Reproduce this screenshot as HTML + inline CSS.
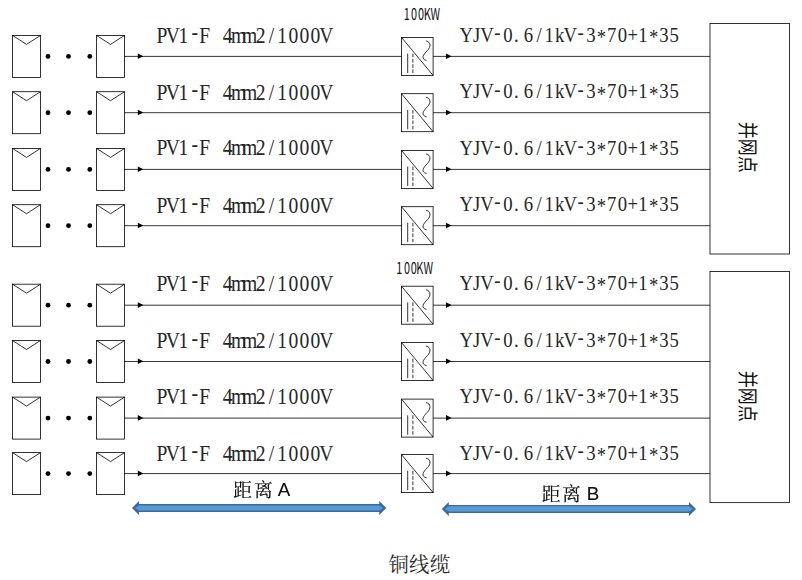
<!DOCTYPE html>
<html lang="zh"><head><meta charset="utf-8"><title>铜线缆</title>
<style>
html,body{margin:0;padding:0;background:#fff}
svg{display:block}
.l{fill:none;stroke:#000;stroke-width:.8}
.t{font-family:"Liberation Serif","Noto Serif CJK SC",serif;font-size:22px;fill:#262626}
.k{font-family:"Noto Sans CJK SC","Liberation Sans",sans-serif;font-size:16px;fill:#111}
.c{font-family:"Noto Serif CJK SC","Liberation Serif",serif;fill:#111}
.d{font-family:"Liberation Sans","Noto Serif CJK SC",serif;font-size:18.8px;fill:#111}
.g{font-family:"Noto Sans CJK SC","Liberation Sans",sans-serif;font-size:20.6px;fill:#111}
</style></head>
<body>
<svg width="802" height="580" viewBox="0 0 802 580">
<rect width="802" height="580" fill="#fff"/>

<g>
<rect class="l" x="12.5" y="35.4" width="28" height="42"/>
<polyline class="l" points="12.5,35.4 26.5,44.4 40.5,35.4"/>
<rect class="l" x="96.5" y="35.4" width="28" height="42"/>
<polyline class="l" points="96.5,35.4 110.5,44.4 124.5,35.4"/>
<circle cx="48.0" cy="56.4" r="2.4" fill="#000"/>
<circle cx="68.5" cy="56.4" r="2.4" fill="#000"/>
<circle cx="89.8" cy="56.4" r="2.4" fill="#000"/>
<line class="l" x1="124.5" y1="56.4" x2="401.5" y2="56.4"/>
<polygon points="137.8,53.4 143.3,56.2 137.8,59.0" fill="#000"/>
<rect class="l" x="401.5" y="37.4" width="31.6" height="38"/>
<line class="l" x1="401.5" y1="37.4" x2="433.1" y2="75.4"/>
<line class="l" x1="407.7" y1="53.6" x2="407.7" y2="73.0"/>
<line class="l" x1="412.9" y1="53.6" x2="412.9" y2="73.0" stroke-dasharray="3.7 1.6"/>
<path class="l" d="M426,40.9 C431,41.9 431,46.9 427.5,50.4 C423,54.9 420.5,58.9 426.5,60.5"/>
<line class="l" x1="433.1" y1="56.4" x2="710" y2="56.4"/>
<polygon points="446,53.4 451.5,56.2 446,59.0" fill="#000"/>
<text class="t" style="font-size:22.8px" transform="scale(0.86,1)" y="42.8 42.8 42.8 40.2 42.8 42.8 42.8 42.8 42.8 42.8 42.8 42.8 42.8 42.8 42.8 42.8" x="182.0 192.7 207.7 222.7 231.6 252.0 259.0 268.6 281.3 297.4 312.6 322.5 335.6 348.3 361.1 371.3">PV1-F 4mm2/1000V</text>
<text class="t" transform="scale(0.85,1)" y="41.8 41.8 41.8 39.3 41.8 41.8 41.8 41.8 41.8 41.8 41.8 39.3 41.8 44.3 41.8 41.8 41.8 41.8 44.3 41.8 41.8" x="540.7 556.4 565.0 581.5 592.0 604.6 616.3 631.1 640.6 653.0 663.0 679.5 689.8 702.2 714.0 726.7 738.2 750.9 763.4 775.6 787.7">YJV-0.6/1kV-3*70+1*35</text>
</g>
<g>
<rect class="l" x="12.5" y="91.7" width="28" height="42"/>
<polyline class="l" points="12.5,91.7 26.5,100.7 40.5,91.7"/>
<rect class="l" x="96.5" y="91.7" width="28" height="42"/>
<polyline class="l" points="96.5,91.7 110.5,100.7 124.5,91.7"/>
<circle cx="48.0" cy="112.7" r="2.4" fill="#000"/>
<circle cx="68.5" cy="112.7" r="2.4" fill="#000"/>
<circle cx="89.8" cy="112.7" r="2.4" fill="#000"/>
<line class="l" x1="124.5" y1="112.7" x2="401.5" y2="112.7"/>
<polygon points="137.8,109.7 143.3,112.5 137.8,115.3" fill="#000"/>
<rect class="l" x="401.5" y="93.7" width="31.6" height="38"/>
<line class="l" x1="401.5" y1="93.7" x2="433.1" y2="131.7"/>
<line class="l" x1="407.7" y1="109.9" x2="407.7" y2="129.3"/>
<line class="l" x1="412.9" y1="109.9" x2="412.9" y2="129.3" stroke-dasharray="3.7 1.6"/>
<path class="l" d="M426,97.2 C431,98.2 431,103.2 427.5,106.7 C423,111.2 420.5,115.2 426.5,116.8"/>
<line class="l" x1="433.1" y1="112.7" x2="710" y2="112.7"/>
<polygon points="446,109.7 451.5,112.5 446,115.3" fill="#000"/>
<text class="t" style="font-size:22.8px" transform="scale(0.86,1)" y="99.8 99.8 99.8 97.2 99.8 99.8 99.8 99.8 99.8 99.8 99.8 99.8 99.8 99.8 99.8 99.8" x="182.0 192.7 207.7 222.7 231.6 252.0 259.0 268.6 281.3 297.4 312.6 322.5 335.6 348.3 361.1 371.3">PV1-F 4mm2/1000V</text>
<text class="t" transform="scale(0.85,1)" y="98.3 98.3 98.3 95.8 98.3 98.3 98.3 98.3 98.3 98.3 98.3 95.8 98.3 100.8 98.3 98.3 98.3 98.3 100.8 98.3 98.3" x="540.7 556.4 565.0 581.5 592.0 604.6 616.3 631.1 640.6 653.0 663.0 679.5 689.8 702.2 714.0 726.7 738.2 750.9 763.4 775.6 787.7">YJV-0.6/1kV-3*70+1*35</text>
</g>
<g>
<rect class="l" x="12.5" y="148.4" width="28" height="42"/>
<polyline class="l" points="12.5,148.4 26.5,157.4 40.5,148.4"/>
<rect class="l" x="96.5" y="148.4" width="28" height="42"/>
<polyline class="l" points="96.5,148.4 110.5,157.4 124.5,148.4"/>
<circle cx="48.0" cy="169.4" r="2.4" fill="#000"/>
<circle cx="68.5" cy="169.4" r="2.4" fill="#000"/>
<circle cx="89.8" cy="169.4" r="2.4" fill="#000"/>
<line class="l" x1="124.5" y1="169.4" x2="401.5" y2="169.4"/>
<polygon points="137.8,166.4 143.3,169.2 137.8,172.0" fill="#000"/>
<rect class="l" x="401.5" y="150.4" width="31.6" height="38"/>
<line class="l" x1="401.5" y1="150.4" x2="433.1" y2="188.4"/>
<line class="l" x1="407.7" y1="166.6" x2="407.7" y2="186.0"/>
<line class="l" x1="412.9" y1="166.6" x2="412.9" y2="186.0" stroke-dasharray="3.7 1.6"/>
<path class="l" d="M426,153.9 C431,154.9 431,159.9 427.5,163.4 C423,167.9 420.5,171.9 426.5,173.5"/>
<line class="l" x1="433.1" y1="169.4" x2="710" y2="169.4"/>
<polygon points="446,166.4 451.5,169.2 446,172.0" fill="#000"/>
<text class="t" style="font-size:22.8px" transform="scale(0.86,1)" y="155.1 155.1 155.1 152.5 155.1 155.1 155.1 155.1 155.1 155.1 155.1 155.1 155.1 155.1 155.1 155.1" x="182.0 192.7 207.7 222.7 231.6 252.0 259.0 268.6 281.3 297.4 312.6 322.5 335.6 348.3 361.1 371.3">PV1-F 4mm2/1000V</text>
<text class="t" transform="scale(0.85,1)" y="154.8 154.8 154.8 152.3 154.8 154.8 154.8 154.8 154.8 154.8 154.8 152.3 154.8 157.3 154.8 154.8 154.8 154.8 157.3 154.8 154.8" x="540.7 556.4 565.0 581.5 592.0 604.6 616.3 631.1 640.6 653.0 663.0 679.5 689.8 702.2 714.0 726.7 738.2 750.9 763.4 775.6 787.7">YJV-0.6/1kV-3*70+1*35</text>
</g>
<g>
<rect class="l" x="12.5" y="204.7" width="28" height="42"/>
<polyline class="l" points="12.5,204.7 26.5,213.7 40.5,204.7"/>
<rect class="l" x="96.5" y="204.7" width="28" height="42"/>
<polyline class="l" points="96.5,204.7 110.5,213.7 124.5,204.7"/>
<circle cx="48.0" cy="225.7" r="2.4" fill="#000"/>
<circle cx="68.5" cy="225.7" r="2.4" fill="#000"/>
<circle cx="89.8" cy="225.7" r="2.4" fill="#000"/>
<line class="l" x1="124.5" y1="225.7" x2="401.5" y2="225.7"/>
<polygon points="137.8,222.7 143.3,225.5 137.8,228.2" fill="#000"/>
<rect class="l" x="401.5" y="206.7" width="31.6" height="38"/>
<line class="l" x1="401.5" y1="206.7" x2="433.1" y2="244.7"/>
<line class="l" x1="407.7" y1="222.8" x2="407.7" y2="242.2"/>
<line class="l" x1="412.9" y1="222.8" x2="412.9" y2="242.2" stroke-dasharray="3.7 1.6"/>
<path class="l" d="M426,210.2 C431,211.2 431,216.2 427.5,219.7 C423,224.2 420.5,228.2 426.5,229.8"/>
<line class="l" x1="433.1" y1="225.7" x2="710" y2="225.7"/>
<polygon points="446,222.7 451.5,225.5 446,228.2" fill="#000"/>
<text class="t" style="font-size:22.8px" transform="scale(0.86,1)" y="212.7 212.7 212.7 210.1 212.7 212.7 212.7 212.7 212.7 212.7 212.7 212.7 212.7 212.7 212.7 212.7" x="182.0 192.7 207.7 222.7 231.6 252.0 259.0 268.6 281.3 297.4 312.6 322.5 335.6 348.3 361.1 371.3">PV1-F 4mm2/1000V</text>
<text class="t" transform="scale(0.85,1)" y="211.0 211.0 211.0 208.5 211.0 211.0 211.0 211.0 211.0 211.0 211.0 208.5 211.0 213.5 211.0 211.0 211.0 211.0 213.5 211.0 211.0" x="540.7 556.4 565.0 581.5 592.0 604.6 616.3 631.1 640.6 653.0 663.0 679.5 689.8 702.2 714.0 726.7 738.2 750.9 763.4 775.6 787.7">YJV-0.6/1kV-3*70+1*35</text>
</g>
<g>
<rect class="l" x="12.5" y="284.2" width="28" height="42"/>
<polyline class="l" points="12.5,284.2 26.5,293.2 40.5,284.2"/>
<rect class="l" x="96.5" y="284.2" width="28" height="42"/>
<polyline class="l" points="96.5,284.2 110.5,293.2 124.5,284.2"/>
<circle cx="48.0" cy="305.2" r="2.4" fill="#000"/>
<circle cx="68.5" cy="305.2" r="2.4" fill="#000"/>
<circle cx="89.8" cy="305.2" r="2.4" fill="#000"/>
<line class="l" x1="124.5" y1="305.2" x2="401.5" y2="305.2"/>
<polygon points="137.8,302.2 143.3,305.1 137.8,307.9" fill="#000"/>
<rect class="l" x="401.5" y="286.2" width="31.6" height="38"/>
<line class="l" x1="401.5" y1="286.2" x2="433.1" y2="324.2"/>
<line class="l" x1="407.7" y1="302.4" x2="407.7" y2="321.9"/>
<line class="l" x1="412.9" y1="302.4" x2="412.9" y2="321.9" stroke-dasharray="3.7 1.6"/>
<path class="l" d="M426,289.8 C431,290.8 431,295.8 427.5,299.2 C423,303.8 420.5,307.8 426.5,309.4"/>
<line class="l" x1="433.1" y1="305.2" x2="710" y2="305.2"/>
<polygon points="446,302.2 451.5,305.1 446,307.9" fill="#000"/>
<text class="t" style="font-size:22.8px" transform="scale(0.86,1)" y="291.0 291.0 291.0 288.4 291.0 291.0 291.0 291.0 291.0 291.0 291.0 291.0 291.0 291.0 291.0 291.0" x="182.0 192.7 207.7 222.7 231.6 252.0 259.0 268.6 281.3 297.4 312.6 322.5 335.6 348.3 361.1 371.3">PV1-F 4mm2/1000V</text>
<text class="t" transform="scale(0.85,1)" y="289.8 289.8 289.8 287.3 289.8 289.8 289.8 289.8 289.8 289.8 289.8 287.3 289.8 292.3 289.8 289.8 289.8 289.8 292.3 289.8 289.8" x="540.7 556.4 565.0 581.5 592.0 604.6 616.3 631.1 640.6 653.0 663.0 679.5 689.8 702.2 714.0 726.7 738.2 750.9 763.4 775.6 787.7">YJV-0.6/1kV-3*70+1*35</text>
</g>
<g>
<rect class="l" x="12.5" y="340.5" width="28" height="42"/>
<polyline class="l" points="12.5,340.5 26.5,349.5 40.5,340.5"/>
<rect class="l" x="96.5" y="340.5" width="28" height="42"/>
<polyline class="l" points="96.5,340.5 110.5,349.5 124.5,340.5"/>
<circle cx="48.0" cy="361.5" r="2.4" fill="#000"/>
<circle cx="68.5" cy="361.5" r="2.4" fill="#000"/>
<circle cx="89.8" cy="361.5" r="2.4" fill="#000"/>
<line class="l" x1="124.5" y1="361.5" x2="401.5" y2="361.5"/>
<polygon points="137.8,358.5 143.3,361.3 137.8,364.1" fill="#000"/>
<rect class="l" x="401.5" y="342.5" width="31.6" height="38"/>
<line class="l" x1="401.5" y1="342.5" x2="433.1" y2="380.5"/>
<line class="l" x1="407.7" y1="358.7" x2="407.7" y2="378.1"/>
<line class="l" x1="412.9" y1="358.7" x2="412.9" y2="378.1" stroke-dasharray="3.7 1.6"/>
<path class="l" d="M426,346.0 C431,347.0 431,352.0 427.5,355.5 C423,360.0 420.5,364.0 426.5,365.6"/>
<line class="l" x1="433.1" y1="361.5" x2="710" y2="361.5"/>
<polygon points="446,358.5 451.5,361.3 446,364.1" fill="#000"/>
<text class="t" style="font-size:22.8px" transform="scale(0.86,1)" y="348.5 348.5 348.5 345.9 348.5 348.5 348.5 348.5 348.5 348.5 348.5 348.5 348.5 348.5 348.5 348.5" x="182.0 192.7 207.7 222.7 231.6 252.0 259.0 268.6 281.3 297.4 312.6 322.5 335.6 348.3 361.1 371.3">PV1-F 4mm2/1000V</text>
<text class="t" transform="scale(0.85,1)" y="347.0 347.0 347.0 344.5 347.0 347.0 347.0 347.0 347.0 347.0 347.0 344.5 347.0 349.5 347.0 347.0 347.0 347.0 349.5 347.0 347.0" x="540.7 556.4 565.0 581.5 592.0 604.6 616.3 631.1 640.6 653.0 663.0 679.5 689.8 702.2 714.0 726.7 738.2 750.9 763.4 775.6 787.7">YJV-0.6/1kV-3*70+1*35</text>
</g>
<g>
<rect class="l" x="12.5" y="397.1" width="28" height="42"/>
<polyline class="l" points="12.5,397.1 26.5,406.1 40.5,397.1"/>
<rect class="l" x="96.5" y="397.1" width="28" height="42"/>
<polyline class="l" points="96.5,397.1 110.5,406.1 124.5,397.1"/>
<circle cx="48.0" cy="418.1" r="2.4" fill="#000"/>
<circle cx="68.5" cy="418.1" r="2.4" fill="#000"/>
<circle cx="89.8" cy="418.1" r="2.4" fill="#000"/>
<line class="l" x1="124.5" y1="418.1" x2="401.5" y2="418.1"/>
<polygon points="137.8,415.1 143.3,417.9 137.8,420.7" fill="#000"/>
<rect class="l" x="401.5" y="399.1" width="31.6" height="38"/>
<line class="l" x1="401.5" y1="399.1" x2="433.1" y2="437.1"/>
<line class="l" x1="407.7" y1="415.3" x2="407.7" y2="434.7"/>
<line class="l" x1="412.9" y1="415.3" x2="412.9" y2="434.7" stroke-dasharray="3.7 1.6"/>
<path class="l" d="M426,402.6 C431,403.6 431,408.6 427.5,412.1 C423,416.6 420.5,420.6 426.5,422.2"/>
<line class="l" x1="433.1" y1="418.1" x2="710" y2="418.1"/>
<polygon points="446,415.1 451.5,417.9 446,420.7" fill="#000"/>
<text class="t" style="font-size:22.8px" transform="scale(0.86,1)" y="404.0 404.0 404.0 401.4 404.0 404.0 404.0 404.0 404.0 404.0 404.0 404.0 404.0 404.0 404.0 404.0" x="182.0 192.7 207.7 222.7 231.6 252.0 259.0 268.6 281.3 297.4 312.6 322.5 335.6 348.3 361.1 371.3">PV1-F 4mm2/1000V</text>
<text class="t" transform="scale(0.85,1)" y="402.8 402.8 402.8 400.3 402.8 402.8 402.8 402.8 402.8 402.8 402.8 400.3 402.8 405.3 402.8 402.8 402.8 402.8 405.3 402.8 402.8" x="540.7 556.4 565.0 581.5 592.0 604.6 616.3 631.1 640.6 653.0 663.0 679.5 689.8 702.2 714.0 726.7 738.2 750.9 763.4 775.6 787.7">YJV-0.6/1kV-3*70+1*35</text>
</g>
<g>
<rect class="l" x="12.5" y="452.6" width="28" height="42"/>
<polyline class="l" points="12.5,452.6 26.5,461.6 40.5,452.6"/>
<rect class="l" x="96.5" y="452.6" width="28" height="42"/>
<polyline class="l" points="96.5,452.6 110.5,461.6 124.5,452.6"/>
<circle cx="48.0" cy="473.6" r="2.4" fill="#000"/>
<circle cx="68.5" cy="473.6" r="2.4" fill="#000"/>
<circle cx="89.8" cy="473.6" r="2.4" fill="#000"/>
<line class="l" x1="124.5" y1="473.6" x2="401.5" y2="473.6"/>
<polygon points="137.8,470.6 143.3,473.4 137.8,476.2" fill="#000"/>
<rect class="l" x="401.5" y="454.6" width="31.6" height="38"/>
<line class="l" x1="401.5" y1="454.6" x2="433.1" y2="492.6"/>
<line class="l" x1="407.7" y1="470.8" x2="407.7" y2="490.2"/>
<line class="l" x1="412.9" y1="470.8" x2="412.9" y2="490.2" stroke-dasharray="3.7 1.6"/>
<path class="l" d="M426,458.1 C431,459.1 431,464.1 427.5,467.6 C423,472.1 420.5,476.1 426.5,477.8"/>
<line class="l" x1="433.1" y1="473.6" x2="710" y2="473.6"/>
<polygon points="446,470.6 451.5,473.4 446,476.2" fill="#000"/>
<text class="t" style="font-size:22.8px" transform="scale(0.86,1)" y="460.7 460.7 460.7 458.1 460.7 460.7 460.7 460.7 460.7 460.7 460.7 460.7 460.7 460.7 460.7 460.7" x="182.0 192.7 207.7 222.7 231.6 252.0 259.0 268.6 281.3 297.4 312.6 322.5 335.6 348.3 361.1 371.3">PV1-F 4mm2/1000V</text>
<text class="t" transform="scale(0.85,1)" y="459.8 459.8 459.8 457.3 459.8 459.8 459.8 459.8 459.8 459.8 459.8 457.3 459.8 462.3 459.8 459.8 459.8 459.8 462.3 459.8 459.8" x="540.7 556.4 565.0 581.5 592.0 604.6 616.3 631.1 640.6 653.0 663.0 679.5 689.8 702.2 714.0 726.7 738.2 750.9 763.4 775.6 787.7">YJV-0.6/1kV-3*70+1*35</text>
</g>
<rect class="l" x="710" y="23.5" width="79.4" height="230.5"/>
<rect class="l" x="710" y="271.5" width="79.4" height="231.15"/>
<text class="g" transform="translate(739.9,147.3) rotate(90) scale(0.825,1)" text-anchor="middle">并网点</text>
<text class="g" transform="translate(739.9,396.2) rotate(90) scale(0.825,1)" text-anchor="middle">并网点</text>
<text class="k" transform="translate(0,19.9) scale(0.68,1)" x="593.8 604.4 614.7 623.2 633.1">100KW</text>
<text class="k" transform="translate(0,273.9) scale(0.68,1)" x="582.7 594.1 603.9 612.0 622.7">100KW</text>
<polygon fill="#386b9e" points="132.0,508.0 139.0,501.0 139.0,504.1 379.2,504.1 379.2,501.0 386.2,508.0 379.2,515.0 379.2,511.9 139.0,511.9 139.0,515.0"/>
<polygon fill="#5b9bd5" points="135.0,508.0 139.2,505.4 379.0,505.4 383.2,508.0 379.0,510.6 139.2,510.6"/>
<polygon fill="#386b9e" points="441.8,508.9 448.8,501.9 448.8,504.9 689.0,504.9 689.0,501.9 696.0,508.9 689.0,515.9 689.0,512.9 448.8,512.9 448.8,515.9"/>
<polygon fill="#5b9bd5" points="444.8,508.9 449.0,506.3 688.8,506.3 693.0,508.9 688.8,511.5 449.0,511.5"/>
<g style="filter:drop-shadow(.6px .7px .5px rgba(0,0,0,.4))">
<text class="d" x="233.3 254 274 277.7" y="497 497 497 495.9">距离 A</text>
<text class="d" x="541.7 562.1 582 586.7" y="500.9 500.9 500.9 499.9">距离 B</text>
</g>
<text class="c" style="fill:#2a2a2a" font-size="20.3" x="388.4 409.1 429.9" y="572">铜线缆</text>
</svg>
</body></html>
